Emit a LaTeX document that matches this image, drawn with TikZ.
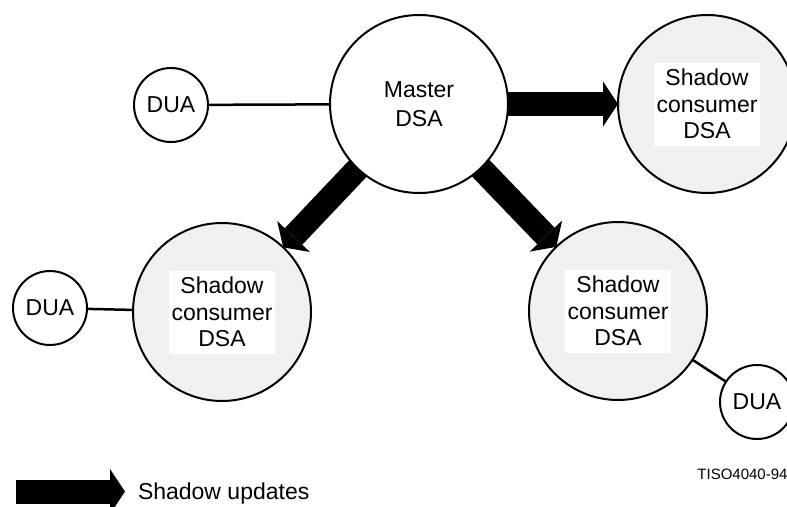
\documentclass[tikz,border=0pt]{standalone}
\usepackage{fontspec}
\setmainfont{Liberation Sans}
\usetikzlibrary{arrows.meta,backgrounds}
\definecolor{shadowgray}{HTML}{F0F0F0}
\begin{document}
\begin{tikzpicture}[x=1pt,y=-1pt,
  every node/.style={inner sep=0pt, outer sep=0pt},
  bigtext/.style={font=\fontsize{23}{26.7}\selectfont, align=center},
  dsa/.style={circle, draw, line width=2pt, minimum size=178pt, fill=white},
  shadowdsa/.style={dsa, fill=shadowgray},
  dua/.style={circle, draw, line width=2pt, minimum size=74pt, fill=white, bigtext},
  textbox/.style={fill=white, minimum width=106pt, minimum height=83pt, bigtext},
  link/.style={line width=2.5pt},
  upd/.style={line width=24pt, -{Triangle[width=45pt,length=15pt,line width=0pt]}},
]
\useasboundingbox (0,0) rectangle (787,506);

\node[dsa, align=center, font=\fontsize{23}{29.3}\selectfont] (master) at (419,104) {Master\\DSA};

\node[shadowdsa] (sh1) at (707,104) {};
\node[textbox] (sh1t) at (sh1) {Shadow\\consumer\\DSA};
\node[shadowdsa] (sh2) at (222,312) {};
\node[textbox] (sh2t) at (sh2) {Shadow\\consumer\\DSA};
\node[shadowdsa] (sh3) at (618,311) {};
\node[textbox] (sh3t) at (sh3) {Shadow\\consumer\\DSA};

\node[dua] (dua1) at (171,105) {DUA};
\node[dua] (dua2) at (50,308) {DUA};
\node[dua] (dua3) at (757,402) {DUA};

\draw[link] (dua1) -- (master);
\draw[link] (dua2) -- (sh2);
\draw[link] (sh3) -- (dua3);

\begin{scope}[on background layer]
  \draw[upd] (master.center) -- (sh1);
  \draw[upd] (master.center) -- (sh2);
  \draw[upd] (master.center) -- (sh3);
\end{scope}

\coordinate (lgA) at (16,491.5);
\coordinate (lgB) at (125,491.5);
\draw[upd] (lgA) -- (lgB);
\node[anchor=base west, font=\fontsize{23}{26.7}\selectfont] (lgtext) at (138,499) {Shadow updates};
\node[anchor=base east, font=\fontsize{15}{18}\selectfont] (tiso) at (787.5,479) {TISO4040-94};
\end{tikzpicture}
\end{document}
